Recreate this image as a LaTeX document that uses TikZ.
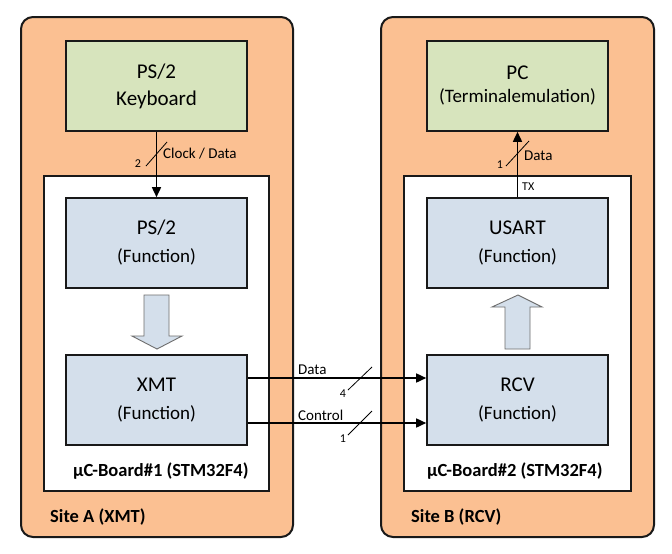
\documentclass[tikz,border=0pt]{standalone}
\usepackage{fontspec}
\setmainfont{Carlito}
\usetikzlibrary{arrows.meta}
\definecolor{siteorange}{RGB}{251,192,146}
\definecolor{boxgreen}{RGB}{215,228,189}
\definecolor{boxblue}{RGB}{212,223,235}
\definecolor{edgecol}{RGB}{25,25,25}
\definecolor{hollowedge}{RGB}{110,110,110}
\begin{document}
\begin{tikzpicture}[x=1pt,y=-1pt,
  site/.style={draw=edgecol, line width=2pt, fill=siteorange, rounded corners=12pt, minimum width=#1, minimum height=520pt, inner sep=0pt},
  board/.style={draw=edgecol, line width=1.6pt, fill=white, minimum width=#1, minimum height=315pt, inner sep=0pt},
  fbox/.style={draw=edgecol, line width=1.6pt, minimum width=181pt, minimum height=90pt, align=center, inner sep=0pt, text=black, font=\fontsize{21}{28}\selectfont},
  gbox/.style={fbox, fill=boxgreen},
  bbox/.style={fbox, fill=boxblue},
  conn/.style={draw=black, line width=1.6pt, -{Triangle[length=10pt,width=9pt]}},
  slash/.style={draw=black, line width=0.8pt},
  hollow/.style={draw=hollowedge, line width=0.9pt, fill=boxblue},
  lbl/.style={font=\fontsize{15}{18}\selectfont, inner sep=0pt, anchor=west},
  num/.style={font=\fontsize{12}{14}\selectfont, inner sep=0pt},
  boldlbl/.style={font=\fontsize{18.5}{22}\selectfont\bfseries, inner sep=0pt, anchor=base west},
]
\useasboundingbox (0,0) rectangle (672,554);
% sites
\node[site=272pt] (siteA) at (157,277) {};
\node[site=273pt] (siteB) at (517.5,277) {};
% boards
\node[board=225pt] (boardA) at (156.5,333.5) {};
\node[board=227pt] (boardB) at (517.5,333.5) {};
% function boxes
\node[gbox, font=\fontsize{21}{27}\selectfont] (kb) at (156.5,86) {PS/2\\Keyboard};
\node[bbox] (ps2) at (156.5,243) {PS/2\\{\fontsize{19}{28}\selectfont (Function)}};
\node[bbox] (xmt) at (156.5,400) {XMT\\{\fontsize{19}{28}\selectfont (Function)}};
\node[gbox, font=\fontsize{21}{23}\selectfont] (pc) at (517.5,86) {PC\\{\fontsize{19}{23}\selectfont (Terminalemulation)}};
\node[bbox] (usart) at (517.5,243) {USART\\{\fontsize{19}{28}\selectfont (Function)}};
\node[bbox] (rcv) at (517.5,400) {RCV\\{\fontsize{19}{28}\selectfont (Function)}};
% hollow arrows
\draw[hollow] (144,295) -- (169,295) -- (169,336) -- (182,336) -- (157,349) -- (132,336) -- (144,336) -- cycle;
\draw[hollow] (505,349) -- (530,349) -- (530,307) -- (542,307) -- (518,295) -- (492,307) -- (505,307) -- cycle;
% connectors
\draw[conn] (kb.south) -- (ps2.north);
\draw[conn] (usart.north) -- (pc.south);
\draw[conn] ([yshift=22pt]xmt.east) -- ([yshift=22pt]rcv.west);
\draw[conn] ([yshift=-23pt]xmt.east) -- ([yshift=-23pt]rcv.west);
% bus slashes
\draw[slash] (146,166) -- (167,142);
\draw[slash] (506,166) -- (529,141);
\draw[slash] (348,390) -- (372,367);
\draw[slash] (348,435) -- (372,411);
% labels
\node[num] (n2) at (138,164) {2};
\node[lbl] (cd) at (163,154) {Clock / Data};
\node[num] (n1a) at (500,165) {1};
\node[lbl] (pcdata) at (524,156) {Data};
\node[num, anchor=west] (tx) at (522,187) {TX};
\node[lbl] (hdata) at (298,370) {Data};
\node[lbl] (hctrl) at (298,415) {Control};
\node[num] (n4) at (343,394) {4};
\node[num] (n1b) at (343,439) {1};
% board / site labels
\node[boldlbl] (bla) at (73,476) {µC-Board\#1 (STM32F4)};
\node[boldlbl] (blb) at (427,476) {µC-Board\#2 (STM32F4)};
\node[boldlbl] (sla) at (50,522) {Site A (XMT)};
\node[boldlbl] (slb) at (411,522) {Site B (RCV)};
\end{tikzpicture}
\end{document}
